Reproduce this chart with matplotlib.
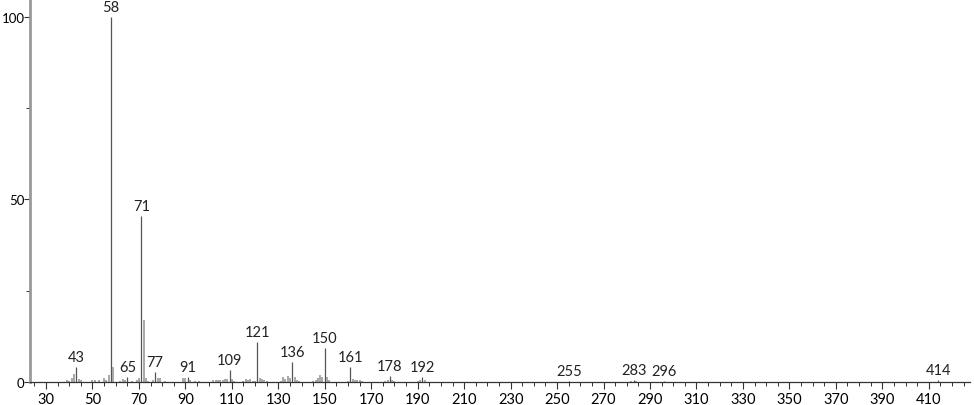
import matplotlib
matplotlib.use("Agg")
from matplotlib import pyplot as plt
from matplotlib.ticker import MultipleLocator

# m/z and relative intensity (%)
mz = [39, 40, 41, 42, 43, 44, 45,
      50, 51, 53, 55, 56, 57, 58, 59,
      62, 63, 64, 65, 67, 69, 70, 71, 72, 73, 74, 76, 77, 78, 79, 81,
      89, 90, 91, 92, 94, 96,
      102, 103, 104, 105, 106, 107, 108, 109, 110, 111,
      115, 116, 117, 118, 119, 120, 121, 122, 123, 124, 125,
      131, 132, 133, 134, 135, 136, 137, 138, 139,
      145, 146, 147, 148, 149, 150, 151, 152,
      160, 161, 162, 163, 164, 165, 166,
      176, 177, 178, 179, 180,
      190, 191, 192, 193,
      255, 282, 283, 284, 296, 414]
intensity = [0.5, 0.3, 1.2, 2.2, 4.0, 0.8, 0.5,
             0.5, 0.6, 0.5, 1.0, 0.5, 1.8, 100, 4.0,
             0.4, 0.8, 0.6, 1.3, 0.4, 0.6, 1.0, 45.5, 17.0, 1.0, 0.4, 0.6, 2.8, 1.2, 1.0, 0.3,
             1.0, 1.2, 1.3, 0.6, 0.3, 0.3,
             0.5, 0.6, 0.5, 0.6, 0.5, 0.8, 0.7, 3.3, 0.7, 0.4,
             0.4, 0.8, 0.6, 0.9, 0.4, 0.3, 11.0, 1.2, 0.8, 0.5, 0.3,
             0.4, 1.4, 0.8, 1.7, 1.2, 5.5, 1.5, 0.5, 0.3,
             0.4, 0.6, 1.2, 1.8, 1.5, 9.3, 1.5, 0.6,
             0.4, 4.1, 0.8, 0.6, 0.5, 0.6, 0.3,
             0.3, 0.6, 1.7, 0.6, 0.3,
             0.4, 0.5, 1.4, 0.6,
             0.4, 0.3, 0.5, 0.3, 0.4, 0.5]

labeled = [43, 58, 65, 71, 77, 91, 109, 121, 136, 150, 161, 178, 192, 255, 283, 296, 414]

plt.rcParams['font.family'] = ['Lato', 'DejaVu Sans']

fig = plt.figure(figsize=(9.74, 4.06), dpi=100)
ax = fig.add_axes([0.0308, 0.0567, 0.965, 0.9433])

for m, v in zip(mz, intensity):
    if m in labeled:
        ax.vlines(m, 0, v, color='#555555', linewidth=0.9)
    else:
        ax.vlines(m, 0, v, color='#a8a8a8', linewidth=1.4)

for m in labeled:
    v = intensity[mz.index(m)]
    ax.text(m, v + 0.8, str(m), ha='center', va='bottom', fontsize=10.5, color='#222222')

ax.set_xlim(23.1, 427.7)
ax.set_ylim(0, 104.9)

ax.set_xticks(range(30, 411, 20))
ax.xaxis.set_minor_locator(MultipleLocator(5))
ax.set_yticks([0, 50, 100])
ax.set_yticks([25, 75], minor=True)

for s in ['top', 'right']:
    ax.spines[s].set_visible(False)
ax.spines['left'].set_color('#999999')
ax.spines['left'].set_linewidth(2)
ax.spines['bottom'].set_color('#333333')
ax.spines['bottom'].set_linewidth(0.9)

ax.tick_params(axis='x', which='major', length=5, width=0.8, color='#333333', labelsize=10.5, pad=2)
ax.tick_params(axis='x', which='minor', length=3, width=0.7, color='#333333')
ax.tick_params(axis='y', which='major', length=4, width=0.8, color='#333333', labelsize=9.5, pad=0)
ax.tick_params(axis='y', which='minor', length=3, width=0.7, color='#333333')

fig.savefig('out.png', dpi=100)
